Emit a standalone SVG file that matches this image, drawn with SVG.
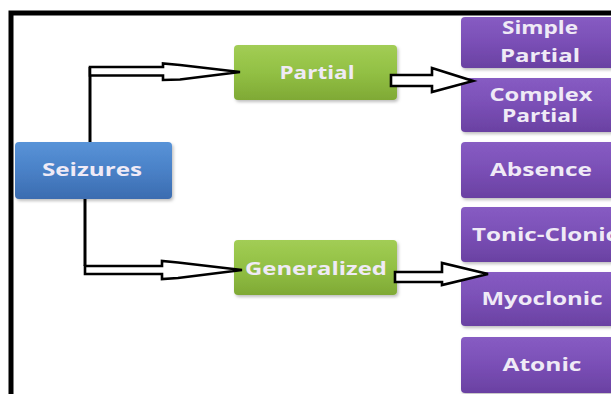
<svg xmlns="http://www.w3.org/2000/svg" width="611" height="394" viewBox="0 0 611 394">
  <defs>
    <linearGradient id="gBlue" x1="0" y1="0" x2="0" y2="1">
      <stop offset="0" stop-color="#5893d8"/>
      <stop offset="0.5" stop-color="#4a81c7"/>
      <stop offset="1" stop-color="#3b6cb0"/>
    </linearGradient>
    <linearGradient id="gGreen" x1="0" y1="0" x2="0" y2="1">
      <stop offset="0" stop-color="#a2cd55"/>
      <stop offset="0.5" stop-color="#92c044"/>
      <stop offset="1" stop-color="#7fa935"/>
    </linearGradient>
    <linearGradient id="gPurple" x1="0" y1="0" x2="0" y2="1">
      <stop offset="0" stop-color="#875cc3"/>
      <stop offset="0.5" stop-color="#7a4fb6"/>
      <stop offset="1" stop-color="#6a41a2"/>
    </linearGradient>
    <filter id="shadow" x="-10%" y="-10%" width="130%" height="140%">
      <feDropShadow dx="1.5" dy="2" stdDeviation="1.5" flood-color="#000" flood-opacity="0.25"/>
    </filter>
  </defs>
  <style>
    .box { stroke: none; filter: url(#shadow); }
    .blue { fill: url(#gBlue); }
    .green { fill: url(#gGreen); }
    .purple { fill: url(#gPurple); }
    .label { font-family: "Open Sans", "DejaVu Sans", sans-serif; font-weight: 700; fill: #efeaf6; text-anchor: middle; }
    .frame { fill: none; stroke: #000; stroke-width: 5; }
    .stem { fill: none; stroke: #000; stroke-width: 3; }
    .arrow { fill: #fff; stroke: #000; stroke-width: 2.6; stroke-linejoin: miter; }
  </style>

  <rect width="611" height="394" fill="#fff"/>

  <!-- outer frame (top and left edges) -->
  <path class="frame" d="M11,394 V13 H611"/>

  <g id="seizures">
    <rect class="box blue" x="15" y="142" width="157" height="57" rx="4"/>
    <text class="label" x="92" y="176" font-size="17.5" textLength="100" lengthAdjust="spacingAndGlyphs">Seizures</text>
  </g>

  <g id="partial">
    <rect class="box green" x="234" y="45" width="163" height="55" rx="4"/>
    <text class="label" x="317" y="79" font-size="17.5" textLength="75" lengthAdjust="spacingAndGlyphs">Partial</text>
  </g>

  <g id="generalized">
    <rect class="box green" x="234" y="240" width="163" height="55" rx="4"/>
    <text class="label" x="316" y="275" font-size="17.5" textLength="142" lengthAdjust="spacingAndGlyphs">Generalized</text>
  </g>

  <g id="simple-partial">
    <rect class="box purple" x="461" y="17" width="164" height="51" rx="4"/>
    <text class="label" x="540" y="34" font-size="17" textLength="76" lengthAdjust="spacingAndGlyphs">Simple</text>
    <text class="label" x="540" y="62" font-size="17" textLength="80" lengthAdjust="spacingAndGlyphs">Partial</text>
  </g>

  <g id="complex-partial">
    <rect class="box purple" x="461" y="78" width="164" height="54" rx="4"/>
    <text class="label" x="541" y="101" font-size="17" textLength="103" lengthAdjust="spacingAndGlyphs">Complex</text>
    <text class="label" x="540" y="122" font-size="17" textLength="76" lengthAdjust="spacingAndGlyphs">Partial</text>
  </g>

  <g id="absence">
    <rect class="box purple" x="461" y="142" width="164" height="56" rx="4"/>
    <text class="label" x="541" y="176" font-size="17.5" textLength="102" lengthAdjust="spacingAndGlyphs">Absence</text>
  </g>

  <g id="tonic-clonic">
    <rect class="box purple" x="461" y="207" width="164" height="55" rx="4"/>
    <text class="label" x="472" y="241" font-size="17.5" style="text-anchor:start" textLength="146" lengthAdjust="spacingAndGlyphs">Tonic-Clonic</text>
  </g>

  <g id="myoclonic">
    <rect class="box purple" x="461" y="272" width="164" height="54" rx="4"/>
    <text class="label" x="542" y="305" font-size="17.5" textLength="121" lengthAdjust="spacingAndGlyphs">Myoclonic</text>
  </g>

  <g id="atonic">
    <rect class="box purple" x="461" y="337" width="164" height="56" rx="4"/>
    <text class="label" x="542" y="371" font-size="17.5" textLength="79" lengthAdjust="spacingAndGlyphs">Atonic</text>
  </g>

  <g id="connectors">
    <!-- Seizures to Partial -->
    <path class="stem" d="M90,142 V67"/>
    <path class="arrow" d="M90,67 H163 V63.5 L180,65 L240,72 L180,79.5 L163,80 V75.5 H90 Z"/>
    <!-- Seizures to Generalized -->
    <path class="stem" d="M85,199 V266"/>
    <path class="arrow" d="M85,266 H162 V261 L178,262.5 L242,270 L178,278 L162,279 V274 H85 Z"/>
    <!-- Partial to its subtypes -->
    <path class="arrow" d="M391,75 H432 V68 L473,81 L432,92 V86 H391 Z"/>
    <!-- Generalized to its subtypes -->
    <path class="arrow" d="M395,272 H442 V263 L488,274 L442,285 V282 H395 Z"/>
  </g>
</svg>
